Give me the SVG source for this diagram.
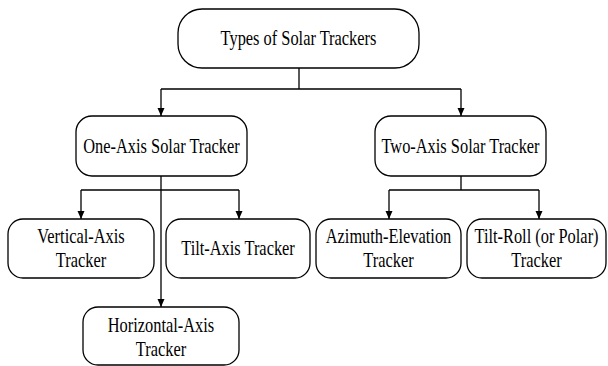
<svg xmlns="http://www.w3.org/2000/svg" width="608" height="366" viewBox="0 0 608 366">
<style>
.box{fill:#fff;stroke:#000;stroke-width:1.3}
.t{font-family:'Liberation Serif','Times New Roman',serif;font-size:20px;fill:#000;text-anchor:middle}
.ln{fill:none;stroke:#000;stroke-width:1.3}
</style>
<defs>
<marker id="ah" markerWidth="8" markerHeight="8" viewBox="0 0 8 8" refX="8" refY="4" orient="auto" markerUnits="userSpaceOnUse">
<path d="M0,0.5 L8,4 L0,7.5 Z" fill="#000"/>
</marker>
</defs>
<g id="connectors">
<path class="ln" d="M299,68 V89 M161,89 H461"/>
<path class="ln" d="M161,89 V116" marker-end="url(#ah)"/>
<path class="ln" d="M461,89 V116" marker-end="url(#ah)"/>
<path class="ln" d="M81,190 H239"/>
<path class="ln" d="M81,190 V219" marker-end="url(#ah)"/>
<path class="ln" d="M239,190 V219" marker-end="url(#ah)"/>
<path class="ln" d="M161,176 V307" marker-end="url(#ah)"/>
<path class="ln" d="M461,176 V190 M389,190 H539"/>
<path class="ln" d="M389,190 V219" marker-end="url(#ah)"/>
<path class="ln" d="M539,190 V219" marker-end="url(#ah)"/>
</g>
<g id="root">
<rect class="box" x="178" y="9" width="241" height="59" rx="24"/>
<text class="t" transform="translate(298.5,45) scale(0.82,1)">Types of Solar Trackers</text>
</g>
<g id="one-axis">
<rect class="box" x="76" y="116" width="171" height="60" rx="16"/>
<text class="t" transform="translate(161.5,153) scale(0.82,1)">One-Axis Solar Tracker</text>
</g>
<g id="two-axis">
<rect class="box" x="375" y="116" width="171" height="60" rx="16"/>
<text class="t" transform="translate(460.5,153) scale(0.82,1)">Two-Axis Solar Tracker</text>
</g>
<g id="vertical-axis">
<rect class="box" x="8" y="219" width="146" height="59" rx="15"/>
<text class="t" transform="translate(81,243) scale(0.82,1)">Vertical-Axis</text>
<text class="t" transform="translate(81,267) scale(0.82,1)">Tracker</text>
</g>
<g id="tilt-axis">
<rect class="box" x="166" y="219" width="144" height="59" rx="15"/>
<text class="t" transform="translate(238,255) scale(0.82,1)">Tilt-Axis Tracker</text>
</g>
<g id="azimuth-elevation">
<rect class="box" x="316" y="219" width="145" height="59" rx="15"/>
<text class="t" transform="translate(388.5,243) scale(0.82,1)">Azimuth-Elevation</text>
<text class="t" transform="translate(388.5,267) scale(0.82,1)">Tracker</text>
</g>
<g id="tilt-roll">
<rect class="box" x="467" y="219" width="139" height="59" rx="15"/>
<text class="t" transform="translate(536.5,243) scale(0.82,1)">Tilt-Roll (or Polar)</text>
<text class="t" transform="translate(536.5,267) scale(0.82,1)">Tracker</text>
</g>
<g id="horizontal-axis">
<rect class="box" x="83" y="307" width="156" height="58" rx="15"/>
<text class="t" transform="translate(161,332) scale(0.82,1)">Horizontal-Axis</text>
<text class="t" transform="translate(161,356) scale(0.82,1)">Tracker</text>
</g>
</svg>
